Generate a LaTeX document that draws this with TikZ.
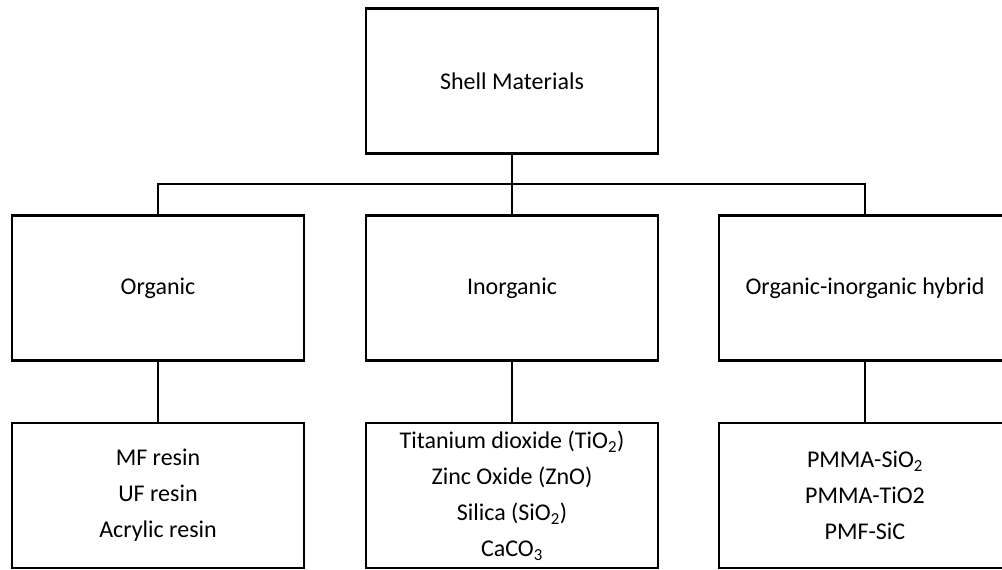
\documentclass[tikz,border=0pt]{standalone}
\usepackage{fontspec}
\setmainfont{Carlito}
\begin{document}
\begin{tikzpicture}[x=1pt,y=-1pt,
    box/.style={draw,line width=2.8pt,minimum width=292pt,minimum height=145pt,inner sep=0pt,align=center,font=\fontsize{24}{36}\selectfont},
    conn/.style={line width=2.4pt}]
    \useasboundingbox (0,0) rectangle (1002,570);
    \clip (0,0) rectangle (1002,570);
    \node[box] (shell) at (512,81) {Shell Materials};
    \node[box] (org) at (158,288) {Organic};
    \node[box] (inorg) at (512,288) {Inorganic};
    \node[box] (hyb) at (865,288) {Organic-inorganic hybrid};
    \node[box] (orgex) at (158,495.5) {MF resin\\UF resin\\Acrylic resin};
    \node[box] (inorgex) at (512,495.5) {Titanium dioxide (TiO\textsubscript{2})\\Zinc Oxide (ZnO)\\Silica (SiO\textsubscript{2})\\CaCO\textsubscript{3}};
    \node[box] (hybex) at (865,495.5) {PMMA-SiO\textsubscript{2}\\PMMA-TiO2\\PMF-SiC};
    \coordinate (bus) at (512,184);
    \draw[conn] (shell.south) -- (bus);
    \draw[conn] (org.north) |- (bus) -| (hyb.north);
    \draw[conn] (bus) -- (inorg.north);
    \draw[conn] (org.south) -- (orgex.north);
    \draw[conn] (inorg.south) -- (inorgex.north);
    \draw[conn] (hyb.south) -- (hybex.north);
\end{tikzpicture}
\end{document}
